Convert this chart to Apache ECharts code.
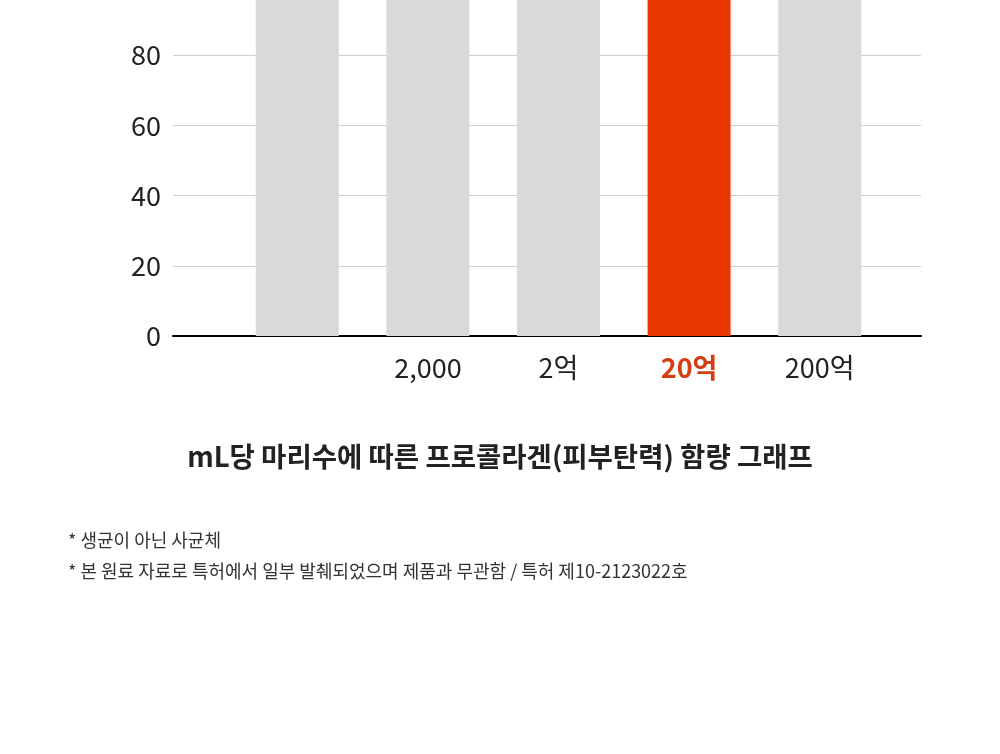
<!DOCTYPE html>
<html>
<head>
<meta charset="utf-8">
<title>프로콜라겐 함량 그래프</title>
<script src="https://cdn.jsdelivr.net/npm/echarts@6/dist/echarts.min.js"></script>
</head>
<body style="margin:0;padding:0;background:#fff;overflow:hidden">
<!-- the chart is cut off at the top in the original, so the canvas starts above the page -->
<div id="chart" style="position:relative;top:-15px;width:1000px;height:769px;"></div>
<script type="text/javascript">
var categories = ['', '2,000', '2억', '20억', '200억'];
var values = [100, 100, 100, 100, 100];
var highlightIndex = 3;
var yTicks = [0, 20, 40, 60, 80, 100];
var titleText = 'mL당 마리수에 따른 프로콜라겐(피부탄력) 함량 그래프';
var notes = ['* 생균이 아닌 사균체', '* 본 원료 자료로 특허에서 일부 발췌되었으며 제품과 무관함 / 특허 제10-2123022호'];

var FONT = '"Noto Sans CJK KR", "Noto Sans", sans-serif';
var RED = '#E83800';
var RED_TEXT = '#D63D10';
var GRAY = '#D9D9D9';

var chart = echarts.init(document.getElementById('chart'));

var option = {
    backgroundColor: '#fff',
    animation: false,
    grid: [
        // axis frame: y labels, split lines, baseline
        { left: 173, right: 79, top: 0, bottom: 418 },
        // bars
        { left: 232, right: 115, top: 0, bottom: 418 }
    ],
    xAxis: [{
        gridIndex: 0,
        type: 'value',
        min: 0,
        max: 1,
        axisLine: { show: true, lineStyle: { color: '#000', width: 2 } },
        axisTick: { show: false },
        axisLabel: { show: false },
        splitLine: { show: false }
    }, {
        gridIndex: 1,
        type: 'category',
        data: categories,
        axisLine: { show: false },
        axisTick: { show: false },
        axisLabel: {
            interval: 0,
            margin: 18,
            rich: {
                hl: { fontSize: 27, fontFamily: FONT, color: RED_TEXT, fontWeight: 'bold' },
                n: { fontSize: 27, fontFamily: FONT, color: '#222' }
            },
            formatter: function (v, i) {
                return i === highlightIndex ? '{hl|' + v + '}' : '{n|' + v + '}';
            }
        }
    }],
    yAxis: [{
        gridIndex: 0,
        type: 'value',
        min: yTicks[0],
        max: yTicks[yTicks.length - 1],
        interval: 20,
        axisLine: { show: false },
        axisTick: { show: false },
        axisLabel: { showMaxLabel: false, margin: 12, fontSize: 27, fontFamily: FONT, color: '#222' },
        splitLine: { lineStyle: { color: '#CFCFCF', width: 1 } }
    }, {
        gridIndex: 1,
        type: 'value',
        min: yTicks[0],
        max: yTicks[yTicks.length - 1],
        show: false
    }],
    series: [{
        type: 'bar',
        xAxisIndex: 1,
        yAxisIndex: 1,
        barWidth: 83,
        data: values.map(function (v, i) {
            return { value: v, itemStyle: { color: i === highlightIndex ? RED : GRAY } };
        })
    }],
    graphic: [{
        type: 'text',
        left: 'center',
        top: 458,
        style: { text: titleText, font: 'bold 27.5px ' + FONT, fill: '#222' }
    }, {
        type: 'text',
        left: 68,
        top: 546,
        style: { text: notes[0], font: '18px ' + FONT, fill: '#333' }
    }, {
        type: 'text',
        left: 68,
        top: 577,
        style: { text: notes[1], font: '18px ' + FONT, fill: '#333' }
    }]
};

chart.setOption(option);
</script>
</body>
</html>
